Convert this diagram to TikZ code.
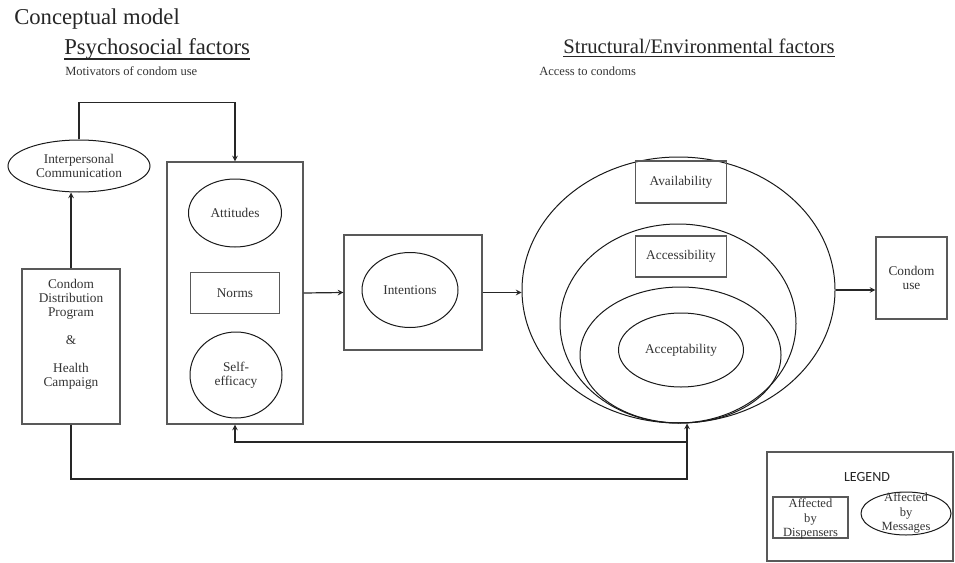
\documentclass[tikz,border=0pt]{standalone}
\usepackage{fontspec}
\setmainfont{Liberation Serif}
\newfontfamily\legendfont{Carlito}
\usetikzlibrary{shapes.geometric}

\newcommand{\nodefont}{\fontsize{10}{10.5}\selectfont}
\newcommand{\legtextfont}{\fontsize{9.4}{10.9}\selectfont}
\newcommand{\headfont}{\fontsize{17}{20}\selectfont}

\tikzset{
	wh/.style 2 args={minimum width=#1*0.75pt, minimum height=#2*0.75pt},
	box/.style={draw=black!65, line width=0.9pt, inner sep=0pt, align=center, font=\nodefont, text=black!80},
	oval/.style={draw=black!90, line width=0.75pt, ellipse, inner sep=0pt, align=center, font=\nodefont, text=black!80},
	txt/.style={inner sep=0pt, align=center, font=\nodefont, text=black!80},
	lgtxt/.style={inner sep=0pt, align=center, font=\legtextfont, text=black!80},
	flow/.style={draw=black!85, line width=0.9pt, -stealth},
	heading/.style={anchor=base west, inner sep=0pt, font=\headfont, text=black!85},
	subhead/.style={anchor=base west, inner sep=0pt, font=\legtextfont, text=black!80},
}

\begin{document}
\begin{tikzpicture}[x=0.75pt, y=-0.75pt]
	\useasboundingbox (0,0) rectangle (955,563);
	% headings
	\node[heading] (title) at (14,25) {Conceptual model};
	\node[heading] (psyhead) at (64,55) {Psychosocial factors};
	\node[heading, font=\fontsize{15.5}{18}\selectfont] (strhead) at (563,54) {Structural/Environmental factors};
	\draw[black!85, line width=0.8pt] ([yshift=-3pt]psyhead.base west) -- ([yshift=-3pt]psyhead.base east);
	\draw[black!85, line width=0.8pt] ([yshift=-2pt]strhead.base west) -- ([yshift=-2pt]strhead.base east);
	\node[subhead] (psysub) at (65,76) {Motivators of condom use};
	\node[subhead] (strsub) at (539,76) {Access to condoms};

	% left column
	\node[box, wh={98}{155}] (cdp) at (71,346.5) {};
	\node[txt] (cdptext) at (71,334) {Condom\\Distribution\\Program\\[10.5pt]\&\\[10.5pt]Health\\Campaign};
	\node[oval, wh={142}{52}] (ipc) at (79,166) {Interpersonal\\Communication};

	% psychosocial block
	\node[box, wh={136}{262}] (psy) at (235,293) {};
	\node[oval, wh={93}{68}] (att) at (235,213) {Attitudes};
	\node[box, wh={89}{41}] (nrm) at (235,293) {Norms};
	\node[oval, wh={92}{86}] (sef) at (236,375) {Self-\\efficacy};

	\node[box, wh={138}{115}] (intbox) at (413,292.5) {};
	\node[oval, wh={96}{75}] (int) at (410,290) {Intentions};

	% structural block
	\node[oval, wh={313}{266}] (avl) at (678.5,290) {};
	\node[oval, wh={236}{199}] (acs) at (678,323.5) {};
	\node[oval, wh={201}{136}] (acp) at (680.5,355) {};
	\node[box, wh={91}{42}] (avlbox) at (681,182) {Availability};
	\node[box, wh={91}{41}] (acsbox) at (681,256.5) {Accessibility};
	\node[oval, wh={125}{74}] (acpell) at (681,350) {Acceptability};

	\node[box, wh={71}{82}] (use) at (911.5,278) {Condom\\use};

	% legend
	\node[box, wh={186}{109}] (leg) at (860,506.5) {};
	\node[inner sep=0pt, font=\legendfont\fontsize{10.5}{12}\selectfont, text=black!85] (legtitle) at (867,477) {LEGEND};
	\node[box, wh={75}{41}] (dsp) at (810.5,517.5) {};
	\node[lgtxt] (dsptext) at (810.5,519) {Affected\\by\\Dispensers};
	\node[oval, wh={90}{43}] (msg) at (906,513.5) {};
	\node[lgtxt] (msgtext) at (906,513) {Affected\\by\\Messages};

	% connectors
	\coordinate (fbot) at (687,479);
	\coordinate (fmid) at (687,442);
	\draw[flow] (cdp.north) -- (cdp.north |- ipc.south);
	\draw[flow] (ipc.north) -- ++(0,-37) -| (psy.north);
	\draw[flow] (psy.east) -- (intbox.west);
	\draw[flow] (intbox.east) -- (intbox.east -| avl.west);
	\draw[flow] (avl.east) -- (avl.east -| use.west);
	\draw[flow] (cdp.south) |- (fbot) -- (fbot |- avl.south);
	\draw[flow] (fmid) -| (psy.south);
\end{tikzpicture}
\end{document}
